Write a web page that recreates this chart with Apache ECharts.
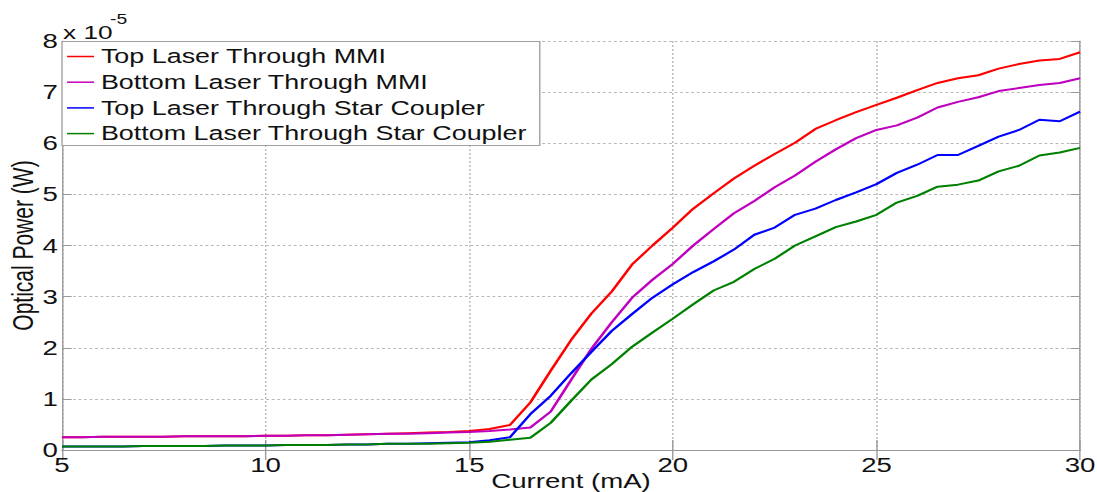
<!DOCTYPE html>
<html>
<head>
<meta charset="utf-8">
<script src="https://cdn.jsdelivr.net/npm/echarts@6/dist/echarts.min.js"></script>
<style>
  html, body { margin: 0; padding: 0; background: #fff; overflow: hidden; }
  #chart { width: 795px; height: 492px; transform: scaleX(1.38); transform-origin: 0 0; }
</style>
</head>
<body>
<div id="chart"></div>
<script>
// ---- data (optical power in units of 1e-5 W) ----
const currents = [5,5.5,6,6.5,7,7.5,8,8.5,9,9.5,10,10.5,11,11.5,12,12.5,13,13.5,14,14.5,15,15.5,16,16.5,17,17.5,18,18.5,19,19.5,20,20.5,21,21.5,22,22.5,23,23.5,24,24.5,25,25.5,26,26.5,27,27.5,28,28.5,29,29.5,30];
const topLaserMMI = [0.25,0.25,0.26,0.26,0.26,0.26,0.27,0.27,0.27,0.27,0.28,0.28,0.29,0.29,0.30,0.31,0.32,0.33,0.34,0.35,0.37,0.41,0.49,0.93,1.55,2.15,2.67,3.10,3.63,4.00,4.35,4.72,5.02,5.31,5.56,5.79,6.01,6.28,6.45,6.61,6.75,6.89,7.04,7.18,7.27,7.33,7.46,7.55,7.62,7.65,7.78];
const bottomLaserMMI = [0.25,0.25,0.26,0.26,0.26,0.26,0.27,0.27,0.27,0.27,0.28,0.28,0.29,0.29,0.30,0.31,0.32,0.32,0.33,0.34,0.35,0.37,0.40,0.44,0.75,1.37,1.98,2.50,2.98,3.33,3.64,4.00,4.32,4.63,4.87,5.14,5.37,5.64,5.88,6.10,6.26,6.35,6.50,6.70,6.81,6.90,7.02,7.08,7.14,7.18,7.27];
const topLaserStar = [0.07,0.07,0.07,0.07,0.08,0.08,0.08,0.08,0.09,0.09,0.09,0.10,0.10,0.10,0.11,0.11,0.12,0.12,0.13,0.14,0.15,0.19,0.25,0.70,1.06,1.50,1.92,2.33,2.66,2.98,3.24,3.48,3.69,3.92,4.21,4.35,4.60,4.72,4.89,5.04,5.20,5.42,5.58,5.77,5.77,5.95,6.13,6.26,6.46,6.43,6.62];
const bottomLaserStar = [0.07,0.07,0.07,0.07,0.08,0.08,0.08,0.08,0.09,0.09,0.09,0.10,0.10,0.10,0.11,0.11,0.12,0.12,0.12,0.13,0.14,0.16,0.20,0.24,0.53,0.96,1.38,1.68,2.02,2.30,2.57,2.85,3.12,3.29,3.54,3.74,4.00,4.18,4.36,4.47,4.60,4.84,4.97,5.15,5.19,5.27,5.45,5.56,5.76,5.82,5.91];
const seriesNames = ['Top Laser Through MMI','Bottom Laser Through MMI','Top Laser Through Star Coupler','Bottom Laser Through Star Coupler'];
const xTicks = [5,10,15,20,25,30];
const yTicks = [0,1,2,3,4,5,6,7,8];
const xLabel = 'Current (mA)';
const yLabel = 'Optical Power (W)';
const exponentBase = 'x 10';
const exponentPower = '-5';

// ---- style ----
const S = 1.38; // horizontal stretch of the original figure
const FONT = '"Liberation Sans", Arial, sans-serif';
const colors = ['#ff0000', '#bf00bf', '#0000ff', '#008000'];
const valuesList = [topLaserMMI, bottomLaserMMI, topLaserStar, bottomLaserStar];
const axisGray = '#999999';

const chart = echarts.init(document.getElementById('chart'), null, { renderer: 'svg' });

const gridLine = { show: true, lineStyle: { color: '#b8b8b8', type: [2, 2], width: 1 } };

const option = {
  animation: false,
  backgroundColor: '#ffffff',
  grid: { left: 62 / S, right: 17 / S, top: 41, bottom: 42, containLabel: false, outerBoundsMode: 'none' },
  xAxis: [
    {
      type: 'value', min: xTicks[0], max: xTicks[xTicks.length - 1], interval: 5,
      position: 'bottom',
      name: xLabel, nameLocation: 'middle', nameGap: 21, nameMoveOverlap: false,
      nameTextStyle: { fontFamily: FONT, fontSize: 20, color: '#111' },
      axisLine: { show: true, lineStyle: { color: axisGray, width: 1 } },
      axisTick: { show: true, inside: true, length: 10, lineStyle: { color: axisGray } },
      axisLabel: { fontFamily: FONT, fontSize: 20, color: '#111', margin: 5 },
      splitLine: gridLine
    },
    {
      type: 'value', min: xTicks[0], max: xTicks[xTicks.length - 1], interval: 5,
      position: 'top',
      axisLine: { show: true, lineStyle: { color: axisGray, width: 1 } },
      axisTick: { show: true, inside: true, length: 10, lineStyle: { color: axisGray } },
      axisLabel: { show: false },
      splitLine: { show: false }
    }
  ],
  yAxis: [
    {
      type: 'value', min: yTicks[0], max: yTicks[yTicks.length - 1], interval: 1,
      position: 'left',
      name: yLabel, nameLocation: 'middle', nameGap: 18, nameRotate: 90, nameMoveOverlap: false,
      nameTextStyle: { fontFamily: FONT, fontSize: 21, color: '#111' },
      axisLine: { show: true, lineStyle: { color: axisGray, width: 1 } },
      axisTick: { show: true, inside: true, length: 7, lineStyle: { color: axisGray } },
      axisLabel: { fontFamily: FONT, fontSize: 20, color: '#111', margin: 3 },
      splitLine: gridLine
    },
    {
      type: 'value', min: yTicks[0], max: yTicks[yTicks.length - 1], interval: 1,
      position: 'right',
      axisLine: { show: true, lineStyle: { color: axisGray, width: 1 } },
      axisTick: { show: true, inside: true, length: 7, lineStyle: { color: axisGray } },
      axisLabel: { show: false },
      splitLine: { show: false }
    }
  ],
  legend: {
    orient: 'vertical',
    left: 62 / S, top: 41.5,
    padding: [4, 2, 1, 4 / S],
    itemGap: 3.7,
    itemWidth: 27 / S, itemHeight: 14,
    backgroundColor: '#ffffff',
    borderColor: '#a0a0a0', borderWidth: 1,
    itemStyle: { opacity: 0 },
    lineStyle: { width: 1.5 },
    textStyle: { fontFamily: FONT, fontSize: 19.5, lineHeight: 22, color: '#111', width: 316 },
    data: seriesNames
  },
  graphic: [
    { type: 'text', left: 63 / S, top: 23, z: 10,
      style: { text: exponentBase, font: '19px ' + FONT, fill: '#111' } },
    { type: 'text', left: 110 / S, top: 12, z: 10,
      style: { text: exponentPower, font: '14px ' + FONT, fill: '#111' } }
  ],
  series: seriesNames.map((name, k) => ({
    name: name,
    type: 'line',
    xAxisIndex: 0, yAxisIndex: 0,
    data: currents.map((c, i) => [c, valuesList[k][i]]),
    symbol: 'none',
    showSymbol: false,
    lineStyle: { color: colors[k], width: 2 },
    itemStyle: { color: colors[k] },
    z: 2 + k
  }))
};

chart.setOption(option);
</script>
</body>
</html>
